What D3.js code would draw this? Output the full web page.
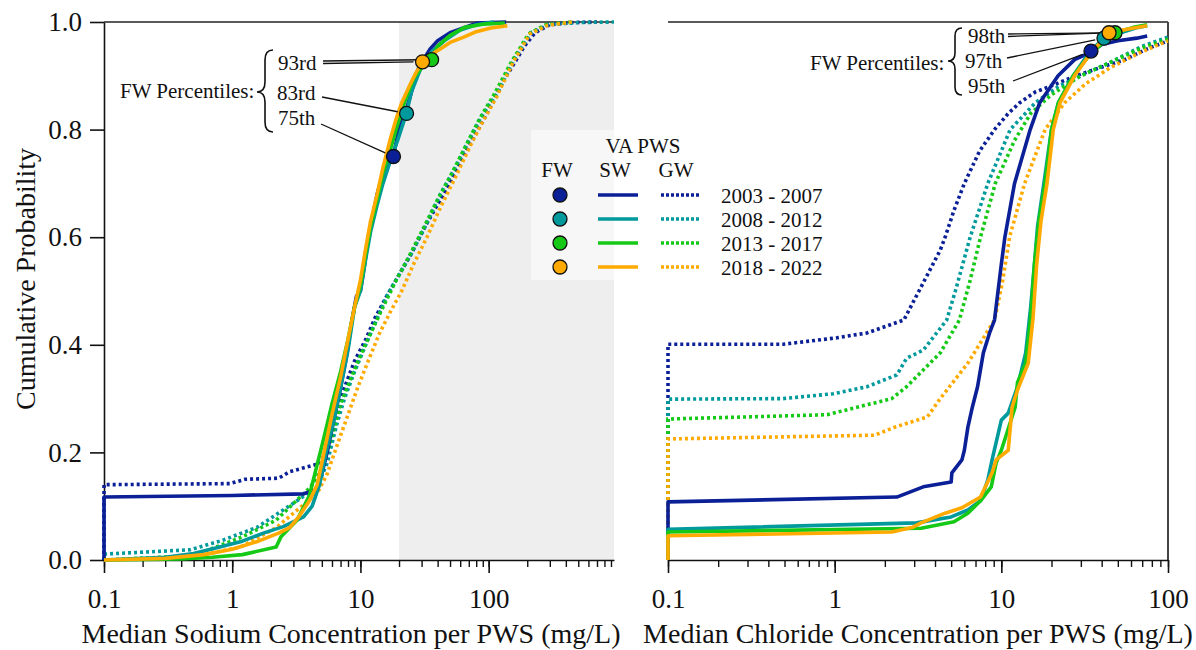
<!DOCTYPE html>
<html>
<head>
<meta charset="utf-8">
<script src="https://cdn.jsdelivr.net/npm/d3@7"></script>
<style>
  html, body { margin: 0; padding: 0; background: #fff; }
  svg { display: block; font-family: "Liberation Serif", "Times New Roman", serif; }
</style>
</head>
<body>
<svg id="chart" width="1196" height="650"></svg>
<script>
// periods and colours
const periods = ["2003 - 2007", "2008 - 2012", "2013 - 2017", "2018 - 2022"];
const periodColors = ["#0b1f96", "#00999c", "#16c916", "#ffaa00"];

// sodium, surface water PWS (value mg/L, cumulative probability)
const naSw0307 = [[0.1,0],[0.1,0.117],[1,0.12],[3.6,0.123],[4.5,0.13],[5,0.16],[5.5,0.2],[6.2,0.26],[7,0.32],[7.8,0.38],[8.5,0.44],[9.3,0.49],[10,0.5],[10.8,0.55],[11.5,0.6],[12.5,0.64],[13.5,0.68],[15,0.72],[17,0.745],[18.1,0.751],[19.5,0.79],[21,0.82],[23,0.84],[25,0.87],[27,0.9],[29,0.92],[32,0.935],[35,0.95],[40,0.965],[50,0.98],[65,0.99],[82,0.998],[137,1]];
const naSw0812 = [[0.1,0],[0.3,0.005],[0.5,0.012],[0.8,0.024],[1.2,0.035],[1.75,0.05],[2.5,0.062],[3.6,0.08],[4.2,0.1],[4.8,0.14],[5.4,0.2],[6.2,0.26],[7,0.32],[8,0.39],[9,0.47],[10,0.5],[11,0.56],[12,0.61],[13.5,0.66],[15,0.7],[17,0.74],[19.5,0.78],[22.9,0.831],[25,0.87],[28,0.9],[31,0.925],[36,0.945],[45,0.965],[60,0.985],[80,0.995],[110,1]];
const naSw1317 = [[0.1,0],[0.4,0.002],[0.7,0.005],[1.2,0.01],[2.2,0.024],[2.4,0.043],[3.2,0.074],[4,0.12],[5.1,0.22],[6,0.29],[7,0.35],[8,0.41],[9,0.47],[10,0.51],[11,0.57],[12,0.62],[13.5,0.67],[15,0.72],[17,0.76],[19,0.8],[22,0.85],[26,0.895],[30,0.915],[35.9,0.929],[40,0.955],[50,0.975],[65,0.99],[90,0.996],[134,0.998]];
const naSw1822 = [[0.1,0],[0.3,0.003],[0.6,0.01],[1,0.02],[1.6,0.035],[2.3,0.05],[2.8,0.06],[3.3,0.08],[4,0.11],[4.6,0.14],[5.2,0.2],[6,0.27],[7,0.34],[8,0.41],[9,0.47],[10,0.52],[11,0.58],[12,0.63],[13.5,0.68],[15,0.73],[17,0.78],[19,0.82],[21,0.85],[24,0.88],[27,0.905],[30.5,0.926],[36,0.94],[42,0.95],[50,0.962],[64,0.972],[80,0.982],[104,0.989],[140,0.993]];

// sodium, groundwater PWS
const naGw0307 = [[0.1,0],[0.1,0.14],[0.96,0.142],[1.26,0.15],[2.3,0.152],[2.8,0.164],[4.9,0.18],[5.5,0.21],[6.5,0.27],[7.5,0.32],[9,0.37],[11,0.41],[13,0.45],[16,0.49],[20,0.53],[25,0.57],[32,0.62],[42,0.67],[55,0.72],[70,0.77],[90,0.815],[110,0.855],[130,0.89],[160,0.925],[190,0.955],[230,0.98],[300,0.995],[450,0.999],[700,1]];
const naGw0812 = [[0.1,0],[0.1,0.011],[0.47,0.019],[0.85,0.037],[1.57,0.061],[3.2,0.11],[4.6,0.136],[5.5,0.18],[6.5,0.25],[7.5,0.3],[9,0.35],[11,0.4],[13,0.44],[16,0.49],[20,0.53],[25,0.57],[32,0.62],[42,0.68],[55,0.73],[70,0.78],[87,0.823],[117,0.868],[157,0.929],[213,0.98],[290,0.995],[500,0.999],[950,1]];
const naGw1317 = [[0.1,0],[0.5,0.008],[1.2,0.043],[2.2,0.074],[4.1,0.136],[5,0.17],[6,0.23],[7,0.29],[8.5,0.34],[10,0.38],[12.5,0.43],[15,0.47],[19,0.52],[24,0.565],[30,0.61],[40,0.67],[52,0.72],[68,0.775],[85,0.82],[110,0.865],[150,0.925],[205,0.978],[280,0.995],[450,1]];
const naGw1822 = [[0.1,0],[0.47,0.005],[1.16,0.024],[2.2,0.06],[4.6,0.124],[5.5,0.16],[6.5,0.21],[8,0.27],[9.5,0.32],[11.5,0.37],[14,0.42],[17,0.46],[21,0.5],[26,0.55],[33,0.6],[43,0.66],[56,0.715],[72,0.77],[90,0.815],[115,0.86],[155,0.925],[210,0.978],[290,0.994],[450,1]];

// chloride, surface water PWS
const clSw0307 = [[0.1,0],[0.1,0.108],[2.36,0.117],[3.4,0.136],[5,0.145],[5.05,0.162],[5.8,0.186],[6,0.204],[6.3,0.247],[6.7,0.284],[7.2,0.322],[7.8,0.385],[8.5,0.422],[9.1,0.446],[10,0.55],[10.5,0.6],[12,0.7],[14.9,0.8],[17,0.85],[21.9,0.9],[27.5,0.93],[34.5,0.944],[40,0.958],[50,0.965],[65,0.97],[75,0.974]];
const clSw0812 = [[0.1,0],[0.1,0.057],[3.1,0.069],[5,0.08],[6.3,0.093],[7.5,0.11],[8.3,0.149],[8.8,0.186],[10,0.26],[11,0.273],[12.5,0.322],[14,0.385],[15,0.47],[15.8,0.55],[16.5,0.62],[18,0.7],[20,0.8],[22,0.85],[27,0.9],[34,0.945],[41.3,0.97],[52,0.98],[66,0.99],[75,0.993]];
const clSw1317 = [[0.1,0],[0.1,0.052],[3.3,0.059],[5.2,0.071],[6.3,0.087],[7.5,0.11],[8.7,0.136],[9.3,0.18],[10,0.204],[12.1,0.284],[12.5,0.33],[14,0.366],[15,0.45],[15.8,0.55],[16.8,0.63],[18.3,0.7],[20,0.8],[22,0.85],[27,0.9],[34,0.94],[42,0.965],[48.1,0.98],[62,0.99],[75,0.995]];
const clSw1822 = [[0.1,0],[0.1,0.045],[2.2,0.052],[2.95,0.061],[3.3,0.069],[4.6,0.087],[5.8,0.097],[7.5,0.117],[8.8,0.162],[9.3,0.186],[11,0.204],[11.6,0.284],[12.5,0.316],[14.5,0.366],[15.5,0.45],[16.3,0.55],[17.3,0.63],[18.8,0.7],[20.5,0.8],[22.5,0.85],[27.5,0.9],[34,0.94],[44.3,0.98],[60,0.988],[75,0.993]];

// chloride, groundwater PWS
const clGw0307 = [[0.1,0],[0.1,0.401],[0.49,0.401],[1.03,0.413],[1.56,0.422],[2.6,0.446],[3,0.483],[3.6,0.53],[4.3,0.576],[4.6,0.6],[5.2,0.65],[6,0.7],[7.4,0.76],[9.1,0.8],[11,0.83],[12.9,0.85],[16,0.87],[19.5,0.88],[28,0.9],[39,0.915],[55,0.93],[75,0.95],[100,0.965]];
const clGw0812 = [[0.1,0],[0.1,0.299],[0.49,0.3],[0.98,0.309],[1.56,0.322],[2.36,0.344],[2.7,0.375],[3.4,0.39],[4.7,0.446],[5.3,0.5],[6.5,0.6],[8.3,0.7],[11.3,0.8],[16,0.85],[22,0.88],[30,0.9],[45,0.925],[70,0.955],[100,0.972]];
const clGw1317 = [[0.1,0],[0.1,0.262],[0.9,0.27],[2.2,0.3],[2.7,0.322],[4.3,0.385],[5.6,0.446],[6.5,0.52],[7.5,0.6],[9.2,0.7],[12,0.78],[15,0.83],[20,0.865],[30,0.9],[45,0.925],[70,0.952],[100,0.968]];
const clGw1822 = [[0.1,0],[0.1,0.225],[1.74,0.232],[2.3,0.247],[3.6,0.266],[4.3,0.3],[6.3,0.366],[9.1,0.446],[10.2,0.52],[11.2,0.6],[13.8,0.7],[18.3,0.8],[24,0.85],[32,0.885],[45,0.915],[70,0.945],[100,0.965]];

// finished water (FW) percentile points, one per period
const naFw = [[18.1,0.75],[22.9,0.83],[35.9,0.93],[30.5,0.926]];
const clFw = [[34.5,0.946],[41.3,0.97],[48.1,0.98],[44.3,0.98]];

const naSeries = { sw: [naSw0307, naSw0812, naSw1317, naSw1822], gw: [naGw0307, naGw0812, naGw1317, naGw1822] };
const clSeries = { sw: [clSw0307, clSw0812, clSw1317, clSw1822], gw: [clGw0307, clGw0812, clGw1317, clGw1822] };

const yTicks = [0, 0.2, 0.4, 0.6, 0.8, 1.0];
const naMajor = [0.1, 1, 10, 100];
const clMajor = [0.1, 1, 10, 100];
const sodiumGuidance = 20; // shaded from here up

const svg = d3.select("#chart");
const plotTop = 22, plotBottom = 560;
const y = d3.scaleLinear().domain([0, 1]).range([plotBottom, plotTop]);

const xNa = d3.scaleLog().domain([0.1, 950]).range([104, 614]);
const xCl = d3.scaleLog().domain([0.1, 100]).range([668, 1168]);

function minorTicks(scale) {
  const [a, b] = scale.domain();
  const out = [];
  for (let d = Math.floor(Math.log10(a)); d <= Math.ceil(Math.log10(b)); d++) {
    for (let k = 1; k < 10; k++) {
      const v = k * Math.pow(10, d);
      if (v >= a * 0.999 && v <= b * 1.001) out.push(v);
    }
  }
  return out;
}

const fmtX = (d) => (d < 1 ? d3.format(".1f")(d) : d3.format("d")(d));

function drawPanel(x, series, fw, major, opts) {
  const g = svg.append("g");

  if (opts.shadeFrom) {
    g.append("rect")
      .attr("x", x(opts.shadeFrom)).attr("y", plotTop)
      .attr("width", x.range()[1] - x(opts.shadeFrom))
      .attr("height", plotBottom - plotTop)
      .attr("fill", "#eeeeee");
  }

  // frame top line
  g.append("line")
    .attr("x1", x.range()[0]).attr("x2", x.range()[1])
    .attr("y1", plotTop).attr("y2", plotTop)
    .attr("stroke", "#222").attr("stroke-width", 1.6);
  if (opts.rightFrame) {
    g.append("line")
      .attr("x1", x.range()[1]).attr("x2", x.range()[1])
      .attr("y1", plotTop).attr("y2", plotBottom)
      .attr("stroke", "#444").attr("stroke-width", 2);
  }

  // minor ticks
  const minorAxis = g.append("g")
    .attr("transform", `translate(0,${plotBottom})`)
    .call(d3.axisBottom(x).tickValues(minorTicks(x)).tickSize(7).tickFormat(""));
  minorAxis.select(".domain").remove();
  minorAxis.selectAll("line").attr("stroke", "#111").attr("stroke-width", 1.4);

  const majorAxis = g.append("g")
    .attr("transform", `translate(0,${plotBottom})`)
    .call(d3.axisBottom(x).tickValues(major).tickSize(13).tickSizeOuter(0).tickPadding(16).tickFormat(fmtX));
  majorAxis.select(".domain").attr("stroke", "#111").attr("stroke-width", 1.6);
  majorAxis.selectAll("line").attr("stroke", "#111").attr("stroke-width", 1.6);
  majorAxis.selectAll("text").attr("font-size", 27).attr("font-family", "Liberation Serif").attr("fill", "#111");

  const line = d3.line().x((d) => x(d[0])).y((d) => y(d[1]));

  series.gw.forEach((data, i) => {
    g.append("path").datum(data)
      .attr("d", line).attr("fill", "none")
      .attr("stroke", periodColors[i]).attr("stroke-width", 3.6)
      .attr("stroke-dasharray", "3,3");
  });
  series.sw.forEach((data, i) => {
    g.append("path").datum(data)
      .attr("d", line).attr("fill", "none")
      .attr("stroke", periodColors[i]).attr("stroke-width", 3.6)
      .attr("stroke-linejoin", "round");
  });

  // leader lines
  opts.labels.forEach((lab) => {
    lab.targets.forEach((ti, j) => {
      const tx = x(fw[ti][0]), ty = y(fw[ti][1]);
      const sx = lab.lx, sy = lab.ly + j * 2.5;
      const len = Math.hypot(tx - sx, ty - sy);
      const r = 9;
      g.append("line")
        .attr("x1", sx).attr("y1", sy)
        .attr("x2", tx - (tx - sx) * r / len).attr("y2", ty - (ty - sy) * r / len)
        .attr("stroke", "#111").attr("stroke-width", 1.3);
    });
    g.append("text")
      .attr("x", lab.tx).attr("y", lab.ty)
      .attr("font-size", 21).attr("fill", "#111")
      .text(lab.text);
  });

  g.append("text")
    .attr("x", opts.titleX).attr("y", opts.titleY)
    .attr("font-size", 21).attr("fill", "#111")
    .text("FW Percentiles:");
  g.append("path").attr("d", opts.brace)
    .attr("fill", "none").attr("stroke", "#111").attr("stroke-width", 1.6);

  g.selectAll("circle.fw")
    .data(fw)
    .join("circle")
    .attr("class", "fw")
    .attr("cx", (d) => x(d[0])).attr("cy", (d) => y(d[1]))
    .attr("r", 7)
    .attr("fill", (d, i) => periodColors[i])
    .attr("stroke", "#111").attr("stroke-width", 1.3);

  g.append("text")
    .attr("x", d3.mean(x.range()) + (opts.xTitleShift || 0)).attr("y", 643)
    .attr("text-anchor", "middle").attr("font-size", 28).attr("fill", "#111")
    .text(opts.xTitle);

  return g;
}

// left panel y axis
const yAxis = svg.append("g")
  .attr("transform", `translate(104,0)`)
  .call(d3.axisLeft(y).tickValues(yTicks).tickSize(14).tickSizeOuter(0).tickPadding(8).tickFormat(d3.format(".1f")));
yAxis.select(".domain").attr("stroke", "#111").attr("stroke-width", 1.6);
yAxis.selectAll("line").attr("stroke", "#111").attr("stroke-width", 1.6);
yAxis.selectAll("text").attr("font-size", 27).attr("font-family", "Liberation Serif").attr("fill", "#111");

svg.append("text")
  .attr("transform", "translate(35,279) rotate(-90)")
  .attr("text-anchor", "middle").attr("font-size", 28).attr("fill", "#111")
  .text("Cumulative Probability");

drawPanel(xNa, naSeries, naFw, naMajor, {
  shadeFrom: sodiumGuidance,
  rightFrame: false,
  xTitle: "Median Sodium Concentration per PWS (mg/L)",
  xTitleShift: -8,
  titleX: 120, titleY: 98,
  brace: "M273,50 Q265,50 265,60 L265,82 Q265,92 257,92 Q265,92 265,102 L265,122 Q265,132 273,132",
  labels: [
    { text: "93rd", tx: 278, ty: 70, lx: 323, ly: 61, targets: [2, 3] },
    { text: "83rd", tx: 277, ty: 100, lx: 322, ly: 97, targets: [1] },
    { text: "75th", tx: 278, ty: 125, lx: 321, ly: 124, targets: [0] }
  ]
});

drawPanel(xCl, clSeries, clFw, clMajor, {
  rightFrame: true,
  xTitle: "Median Chloride Concentration per PWS (mg/L)",
  titleX: 810, titleY: 70,
  brace: "M962,28 Q955,28 955,36 L955,53 Q955,61 948,61 Q955,61 955,69 L955,87 Q955,95 962,95",
  labels: [
    { text: "98th", tx: 968, ty: 43, lx: 1008, ly: 34, targets: [2, 3] },
    { text: "97th", tx: 965, ty: 68, lx: 1007, ly: 58, targets: [1] },
    { text: "95th", tx: 968, ty: 93, lx: 1013, ly: 81, targets: [0] }
  ]
});

// legend
const legend = svg.append("g");
legend.append("rect")
  .attr("x", 531).attr("y", 130).attr("width", 300).attr("height", 150)
  .attr("fill", "#fff").attr("fill-opacity", 0.55);
legend.append("text").attr("x", 643).attr("y", 153).attr("text-anchor", "middle")
  .attr("font-size", 21).attr("fill", "#111").text("VA PWS");
[["FW", 557], ["SW", 615], ["GW", 676]].forEach(([t, cx]) => {
  legend.append("text").attr("x", cx).attr("y", 177).attr("text-anchor", "middle")
    .attr("font-size", 21).attr("fill", "#111").text(t);
});
periods.forEach((p, i) => {
  const cy = 195 + i * 24;
  legend.append("circle").attr("cx", 560).attr("cy", cy).attr("r", 7)
    .attr("fill", periodColors[i]).attr("stroke", "#111").attr("stroke-width", 1.3);
  legend.append("line").attr("x1", 598).attr("x2", 638).attr("y1", cy).attr("y2", cy)
    .attr("stroke", periodColors[i]).attr("stroke-width", 3.6);
  legend.append("line").attr("x1", 661).attr("x2", 701).attr("y1", cy).attr("y2", cy)
    .attr("stroke", periodColors[i]).attr("stroke-width", 3.6).attr("stroke-dasharray", "3,2");
  legend.append("text").attr("x", 721).attr("y", cy + 8)
    .attr("font-size", 21).attr("fill", "#111").text(p);
});
</script>
</body>
</html>
